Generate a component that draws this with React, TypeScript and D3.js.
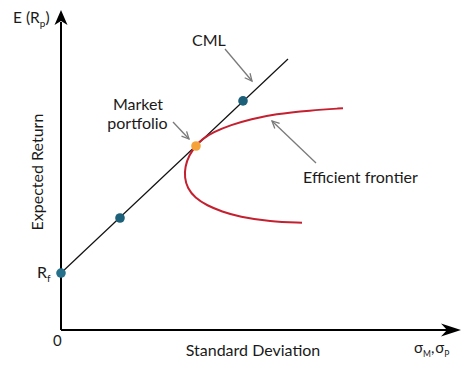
import React from "react";
import * as d3 from "d3";

// Data (abstract units: sigma 0..100, expected return 0..100)
const cmlLine: [number, number][] = [[0, 17.8], [56.75, 84.7]];
const cmlPoints: { sigma: number; ret: number; kind: string }[] = [
  { sigma: 0, ret: 17.8, kind: "rf" },
  { sigma: 14.75, ret: 35, kind: "p" },
  { sigma: 45.5, ret: 71.6, kind: "p" },
  { sigma: 33.75, ret: 57.5, kind: "market" },
];
const frontierSigma = [70.5, 62.25, 53.5, 47.5, 42.5, 38, 35.25, 33.75, 32, 31, 30.9, 31.6, 33.5, 36.5, 40.25, 44.5, 52.25, 60.25];
const frontierRet = [69.3, 68.6, 67.5, 65.9, 64.1, 61.8, 59.6, 57.7, 54.6, 51.0, 47.6, 44.3, 41.3, 38.9, 37.0, 35.4, 33.9, 33.5];

const W = 474, H = 367;
const x = d3.scaleLinear().domain([0, 100]).range([61, 461]);
const y = d3.scaleLinear().domain([0, 100]).range([330, 10]);

const FONT = "Lato, 'Open Sans', sans-serif";

export default function App() {
  const frontier = frontierSigma.map((s, i) => [s, frontierRet[i]] as [number, number]);
  const lineGen = d3.line<[number, number]>().x(d => x(d[0])).y(d => y(d[1]));
  const curveGen = d3.line<[number, number]>().x(d => x(d[0])).y(d => y(d[1])).curve(d3.curveBasis);
  const x0 = x(0), y0 = y(0);
  const colors: Record<string, string> = { rf: "#25708a", p: "#1d6079", market: "#f5a23a" };

  const arrow = (x1: number, y1: number, x2: number, y2: number, key: string) => {
    const ang = Math.atan2(y2 - y1, x2 - x1);
    const L = 8, a = 0.45;
    const p1 = [x2 - L * Math.cos(ang - a), y2 - L * Math.sin(ang - a)];
    const p2 = [x2 - L * Math.cos(ang + a), y2 - L * Math.sin(ang + a)];
    return (
      <g key={key} stroke="#7a7a7a" strokeWidth={1.3} fill="none">
        <line x1={x1} y1={y1} x2={x2} y2={y2} />
        <polyline points={`${p1[0]},${p1[1]} ${x2},${y2} ${p2[0]},${p2[1]}`} />
      </g>
    );
  };

  return (
    <svg width={W} height={H} style={{ position: "absolute", left: 0, top: 0, background: "#fff" }}>
      {/* axes */}
      <line x1={x0} y1={y0} x2={x0} y2={y(100) + 12} stroke="#000" strokeWidth={2} />
      <path d={`M${x0},${y(100)} L${x0 - 6.5},${y(100) + 15} L${x0},${y(100) + 11} L${x0 + 6.5},${y(100) + 15} Z`} fill="#000" />
      <line x1={x0} y1={y0} x2={x(100) - 12} y2={y0} stroke="#000" strokeWidth={2} />
      <path d={`M${x(100)},${y0} L${x(100) - 20},${y0 - 6.5} L${x(100) - 14},${y0} L${x(100) - 20},${y0 + 6.5} Z`} fill="#000" />

      {/* CML */}
      <path d={lineGen(cmlLine) || ""} stroke="#111" strokeWidth={1.2} fill="none" />
      {/* frontier */}
      <path d={curveGen(frontier) || ""} stroke="#c4202f" strokeWidth={2} fill="none" />

      {cmlPoints.map((p, i) => (
        <circle key={i} cx={x(p.sigma)} cy={y(p.ret)} r={4.8} fill={colors[p.kind]} />
      ))}

      {/* annotations */}
      {arrow(225, 49, 252, 81, "a1")}
      {arrow(173, 122, 189, 139, "a2")}
      {arrow(316, 163, 272, 121, "a3")}

      <g fontFamily={FONT} fill="#1a1a1a">
        <text x={192} y={46} fontSize={16}>CML</text>
        <text x={138} y={110} fontSize={16} textAnchor="middle">Market</text>
        <text x={137.5} y={129} fontSize={16} textAnchor="middle">portfolio</text>
        <text x={303} y={183} fontSize={16}>Efficient frontier</text>
        <text x={253} y={356} fontSize={16} textAnchor="middle">Standard Deviation</text>
        <text x={53} y={346} fontSize={15}>0</text>
        <text x={37} y={278} fontSize={16}>R<tspan fontSize={10} dy={4}>f</tspan></text>
        <text x={13} y={23} fontSize={15.5}>E (R<tspan fontSize={10} dy={4}>p</tspan><tspan dy={-4}>)</tspan></text>
        <text transform={`translate(43,172) rotate(-90)`} fontSize={16} textAnchor="middle">Expected Return</text>
        <text x={414} y={353} fontSize={15}>σ<tspan fontSize={8.5} dy={4}>M</tspan><tspan dy={-4}>,</tspan><tspan dx={1}>σ</tspan><tspan fontSize={8.5} dy={4}>P</tspan></text>
      </g>
    </svg>
  );
}
